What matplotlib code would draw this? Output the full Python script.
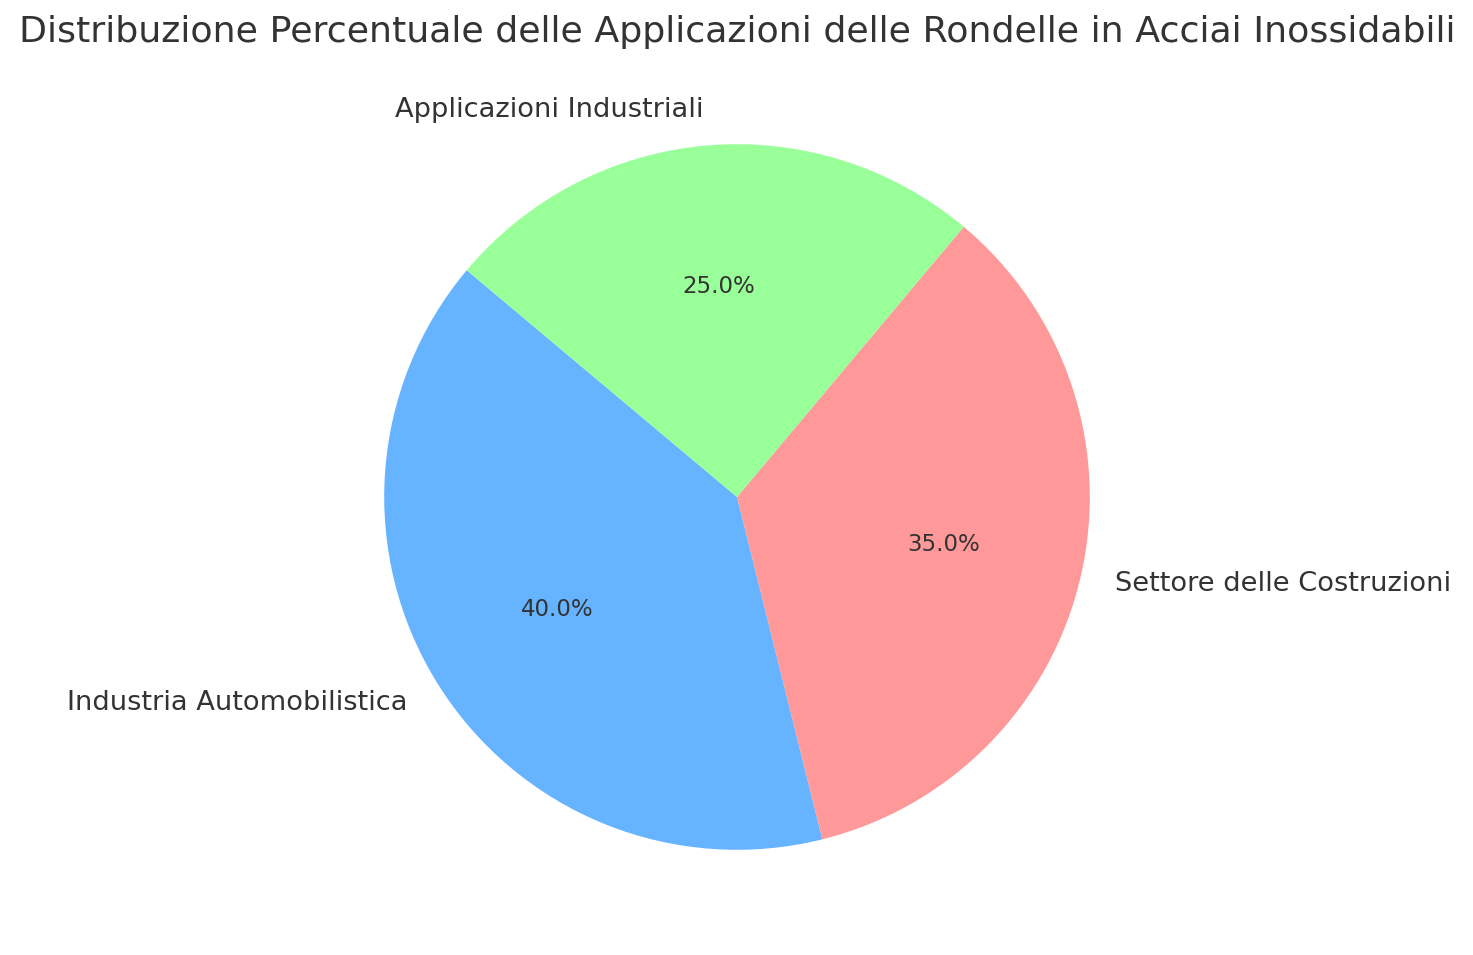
import matplotlib.pyplot as plt

labels = ['Industria Automobilistica', 'Settore delle Costruzioni', 'Applicazioni Industriali']
sizes = [40, 35, 25]
colors = ['#66b3ff', '#ff9999', '#99ff99']

fig = plt.figure(figsize=(14.73, 9.55), dpi=100)
ax = fig.add_axes([296 / 1473, 17 / 955, 882 / 1473, 882 / 955])

wedges, texts, autotexts = ax.pie(sizes, labels=labels, colors=colors, autopct='%1.1f%%',
                                  startangle=140, textprops={'fontsize': 16.5, 'color': '#333333'})
for t in texts:
    t.set_fontsize(19.6)
ax.set_title('Distribuzione Percentuale delle Applicazioni delle Rondelle in Acciai Inossidabili',
             fontsize=26.2, color='#333333', pad=10)
ax.set_xlim(-1.25, 1.25)
ax.set_ylim(-1.25, 1.25)

fig.savefig('out.png', dpi=100)
